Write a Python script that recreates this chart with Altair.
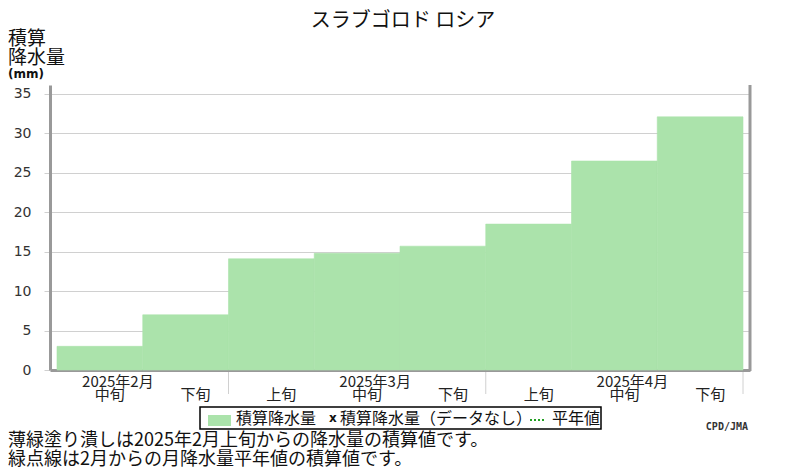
import altair as alt
import pandas as pd

# ---- data ----
periods = ["中旬", "下旬", "上旬", "中旬", "下旬", "上旬", "中旬", "下旬"]
precip = [3.0, 7.0, 14.1, 14.8, 15.7, 18.5, 26.5, 32.1]
month_labels = ["2025年2月", "2025年3月", "2025年4月"]
month_first_period = [0, 3, 6]
month_boundaries = [2, 5, 8]
y_ticks = [0, 5, 10, 15, 20, 25, 30, 35]

title_text = "スラブゴロド ロシア"
y_title_lines = ["積算", "降水量"]
y_unit = "(mm)"
legend_labels = ["積算降水量", "積算降水量（データなし）", "平年値"]
note_lines = [
    "薄緑塗り潰しは2025年2月上旬からの降水量の積算値です。",
    "緑点線は2月からの月降水量平年値の積算値です。",
]
credit = "CPD/JMA"

JP = "Noto Sans CJK JP"
GREEN = "#abe3ab"

bars_df = pd.DataFrame({
    "start": list(range(len(precip))),
    "end": [i + 1 for i in range(len(precip))],
    "center": [i + 0.5 for i in range(len(precip))],
    "precip": precip,
    "period": periods,
})
months_df = pd.DataFrame({
    "label": month_labels,
    "pos": [i + 0.5 for i in month_first_period],
})
bound_df = pd.DataFrame({"b": month_boundaries})
one = pd.DataFrame({"a": [0]})

x_scale = alt.Scale(domain=[-0.0816, 8.0816], nice=False, zero=False)
y_scale = alt.Scale(domain=[0, 36.14], nice=False)

bars = alt.Chart(bars_df).mark_rect(color=GREEN, stroke=GREEN, strokeWidth=0.6).encode(
    x=alt.X("start:Q", scale=x_scale,
            axis=alt.Axis(labels=False, ticks=False, grid=False,
                          domainColor="#999999", domainWidth=3, title="")),
    x2="end:Q",
    y=alt.Y("precip:Q", scale=y_scale,
            axis=alt.Axis(values=y_ticks, grid=True, gridColor="#d0d0d0",
                          tickColor="#d0d0d0", tickSize=6,
                          domainColor="#999999", domainWidth=3,
                          labelFont="DejaVu Sans", labelFontSize=14,
                          labelColor="#333333", labelPadding=13, title="")),
    y2=alt.datum(0),
)

period_text = alt.Chart(bars_df).mark_text(
    font=JP, fontSize=15, color="#222222", dx=10, baseline="middle"
).encode(x=alt.X("center:Q", scale=x_scale), y=alt.value(310), text="period:N")

month_text = alt.Chart(months_df).mark_text(
    font=JP, fontSize=15, color="#222222", dx=18, baseline="middle"
).encode(x=alt.X("pos:Q", scale=x_scale), y=alt.value(297), text="label:N")

bound_rules = alt.Chart(bound_df).mark_rule(color="#d0d0d0", strokeWidth=1).encode(
    x=alt.X("b:Q", scale=x_scale), y=alt.value(287), y2=alt.value(309)
)

right_border = alt.Chart(one).mark_rule(color="#999999", strokeWidth=3).encode(
    x=alt.value(700), y=alt.value(0), y2=alt.value(286)
)


def label(text, x, y, size, align="left", font=JP, weight="normal", color="#111111"):
    return alt.Chart(one).mark_text(
        text=text, align=align, baseline="middle", font=font,
        fontSize=size, fontWeight=weight, color=color
    ).encode(x=alt.value(x), y=alt.value(y))


title = label(title_text, 353, -64, 20, align="center")
ytitle1 = label(y_title_lines[0], -42, -46, 19)
ytitle2 = label(y_title_lines[1], -42, -27, 19)
yunit = label(y_unit, -42, -11, 12, font="DejaVu Sans", weight="bold")

legend_box = alt.Chart(one).mark_rect(fill="white", stroke="black", strokeWidth=1.5).encode(
    x=alt.value(150), x2=alt.value(551), y=alt.value(322), y2=alt.value(344)
)
legend_swatch = alt.Chart(one).mark_rect(fill=GREEN).encode(
    x=alt.value(158), x2=alt.value(181), y=alt.value(330), y2=alt.value(341)
)
legend_t1 = label(legend_labels[0], 186, 334, 16)
legend_x = label("x", 279, 333, 12, font="DejaVu Sans", weight="bold")
legend_t2 = label(legend_labels[1], 290, 334, 16)
legend_dots = alt.Chart(one).mark_rule(color="#22a022", strokeWidth=2, strokeDash=[2, 2]).encode(
    x=alt.value(480), x2=alt.value(496), y=alt.value(335)
)
legend_t3 = label(legend_labels[2], 502, 334, 16)

note1 = label(note_lines[0], -42, 356, 18)
note2 = label(note_lines[1], -42, 375, 18)
credit_t = label(credit, 698, 342, 10, align="right", font="DejaVu Sans Mono",
                 weight="bold", color="#333333")

chart = alt.layer(
    bars, bound_rules, right_border, period_text, month_text,
    title, ytitle1, ytitle2, yunit,
    legend_box, legend_swatch, legend_t1, legend_x, legend_t2, legend_dots, legend_t3,
    note1, note2, credit_t,
).properties(
    width=700, height=285,
    autosize=alt.AutoSizeParams(type="none"),
    padding={"left": 42, "top": 77, "right": 42, "bottom": 100},
).configure_view(strokeWidth=0)

chart.save("out.html", embed_options={"renderer": "svg", "actions": False})
